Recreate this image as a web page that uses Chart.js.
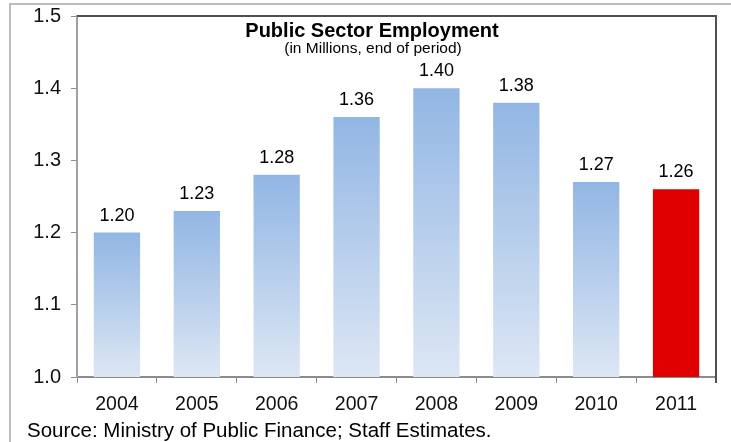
<!DOCTYPE html>
<html>
<head>
<meta charset="utf-8">
<script src="https://cdn.jsdelivr.net/npm/chart.js@4"></script>
<style>
  html, body { margin: 0; padding: 0; background: #fff; }
  #wrap { width: 731px; height: 442px; position: relative; }
</style>
</head>
<body>
<div id="wrap"><canvas id="myChart" width="731" height="442"></canvas></div>
<script>
const years = ['2004', '2005', '2006', '2007', '2008', '2009', '2010', '2011'];
const employment = [1.20, 1.23, 1.28, 1.36, 1.40, 1.38, 1.27, 1.26];
const yTicks = [1.0, 1.1, 1.2, 1.3, 1.4, 1.5];

const FONT = '"Liberation Sans", Arial, sans-serif';
const ctx = document.getElementById('myChart');

// blue gradient per bar, top to the axis; the last year is red
const barColor = c => {
  if (c.dataIndex === years.length - 1) return '#e00000';
  const chart = c.chart;
  if (!chart.chartArea || !chart.scales.y) return '#a8c4ea';
  const y = chart.scales.y;
  const top = y.getPixelForValue(c.raw);
  const bottom = y.getPixelForValue(1.0);
  const g = chart.ctx.createLinearGradient(0, top, 0, bottom);
  g.addColorStop(0, '#92b6e4');
  g.addColorStop(1, '#dde7f4');
  return g;
};

const decorations = {
  id: 'decorations',
  afterDraw(chart) {
    const { ctx: c, chartArea: a } = chart;
    c.save();
    // outer frame
    c.strokeStyle = '#bdbdbd';
    c.lineWidth = 2;
    c.beginPath();
    c.moveTo(10, 442);
    c.lineTo(10, 4);
    c.lineTo(731, 4);
    c.stroke();
    // top and right border of the plot
    c.strokeStyle = '#505050';
    c.lineWidth = 2;
    c.beginPath();
    c.moveTo(a.left, a.top);
    c.lineTo(a.right, a.top);
    c.lineTo(a.right, a.bottom + 6);
    c.stroke();
    // title
    c.fillStyle = '#000';
    c.textAlign = 'center';
    c.textBaseline = 'middle';
    c.font = 'bold 20px ' + FONT;
    c.fillText('Public Sector Employment', 372, 31);
    c.font = '15.5px ' + FONT;
    c.fillText('(in Millions, end of period)', 373, 49);
    // value labels
    c.font = '18px ' + FONT;
    const meta = chart.getDatasetMeta(0);
    meta.data.forEach((bar, i) => {
      c.fillText(employment[i].toFixed(2), bar.x, bar.y - 17);
    });
    // source
    c.textAlign = 'left';
    c.font = '20.5px ' + FONT;
    c.fillText('Source: Ministry of Public Finance; Staff Estimates.', 27, 431);
    c.restore();
  },
};

new Chart(ctx, {
  type: 'bar',
  data: {
    labels: years,
    datasets: [
      {
        data: employment,
        backgroundColor: barColor,
        borderWidth: 0,
        barPercentage: 0.58,
        categoryPercentage: 1,
      },
    ],
  },
  options: {
    responsive: false,
    animation: false,
    layout: { padding: { top: 16, right: 15, left: 0, bottom: 0 } },
    plugins: {
      legend: { display: false },
      tooltip: { enabled: false },
    },
    scales: {
      x: {
        offset: true,
        grid: {
          offset: true,
          drawOnChartArea: false,
          tickLength: 6,
          color: '#8c8c8c',
        },
        border: { color: '#8c8c8c', width: 2 },
        ticks: {
          color: '#111',
          font: { family: FONT, size: 19.5 },
          padding: 10,
        },
        afterFit: s => { s.height = 65; s.paddingLeft = 0; s.paddingRight = 0; },
      },
      y: {
        min: 1.0,
        max: 1.5,
        afterBuildTicks: s => { s.ticks = yTicks.map(v => ({ value: v })); },
        grid: {
          drawOnChartArea: false,
          tickLength: 6,
          color: '#8c8c8c',
        },
        border: { color: '#a0a0a0', width: 2 },
        ticks: {
          color: '#111',
          font: { family: FONT, size: 20 },
          padding: 10,
          callback: v => Number(v).toFixed(1),
        },
        afterFit: s => { s.width = 77; s.paddingTop = 0; s.paddingBottom = 0; },
      },
    },
  },
  plugins: [decorations],
});
</script>
</body>
</html>
